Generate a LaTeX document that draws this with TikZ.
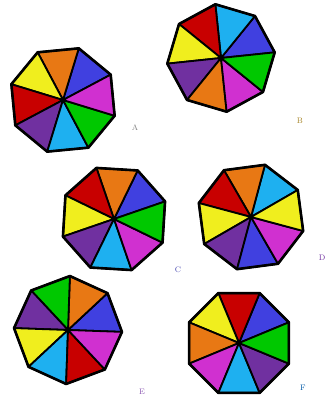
\documentclass[tikz,border=0pt]{standalone}
\usepackage{xcolor}
\usepackage{tikz}

\definecolor{wred}{RGB}{200,0,0}
\definecolor{worange}{RGB}{232,120,20}
\definecolor{wyellow}{RGB}{240,238,30}
\definecolor{wgreen}{RGB}{0,200,0}
\definecolor{wcyan}{RGB}{30,176,240}
\definecolor{wblue}{RGB}{64,64,224}
\definecolor{wmagenta}{RGB}{208,48,208}
\definecolor{wpurple}{RGB}{112,48,160}

% #1 name, #2 centre, #3 angle of first corner, #4 colours (counter-clockwise)
\newcommand{\octwheel}[4]{%
  \begin{scope}[shift={#2}]
    \coordinate (#1) at (0,0);
    \foreach \col [count=\i from 0] in {#4} {
      \filldraw[wedge, fill=\col] (0,0) -- (#3+45*\i:54) -- (#3+45*\i+45:54) -- cycle;
    }
    \draw[rim] (#3:54) \foreach \k in {1,...,7} { -- (#3+45*\k:54) } -- cycle;
  \end{scope}
}

\begin{document}
\begin{tikzpicture}[
  x=1pt, y=1pt,
  wedge/.style={draw=black, line width=1.8pt, line join=round},
  rim/.style={draw=black, line width=2.6pt, line join=round},
  tag/.style={font=\footnotesize, inner sep=0pt}
]
\useasboundingbox (0,0) rectangle (329,401);

\octwheel{wheelA}{(63,301)}{28}{wblue,worange,wyellow,wred,wpurple,wcyan,wgreen,wmagenta}
\octwheel{wheelB}{(221,343)}{6}{wblue,wcyan,wred,wyellow,wpurple,worange,wmagenta,wgreen}
\octwheel{wheelC}{(114,182)}{19}{wblue,worange,wred,wyellow,wpurple,wcyan,wmagenta,wgreen}
\octwheel{wheelD}{(251,184)}{30}{wcyan,worange,wred,wyellow,wpurple,wblue,wmagenta,wyellow}
\octwheel{wheelE}{(68,71)}{-2}{wblue,worange,wgreen,wpurple,wyellow,wcyan,wred,wmagenta}
\octwheel{wheelF}{(239,58)}{22.5}{wblue,wred,wyellow,worange,wmagenta,wcyan,wpurple,wgreen}

% labels
\node[tag, text=gray] (labA) at (135,273) {A};
\node[tag, text=olive!80!magenta] (labB) at (300,280) {B};
\node[tag, text=gray!60!blue] (labC) at (178,131) {C};
\node[tag, text=wpurple] (labD) at (322,143) {D};
\node[tag, text=wpurple!80] (labE) at (142,9) {E};
\node[tag, text=teal!70!blue] (labF) at (303,13) {F};
\end{tikzpicture}
\end{document}
